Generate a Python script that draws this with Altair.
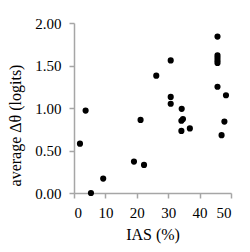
import altair as alt
import pandas as pd

ias = [1.9, 3.7, 5.4, 9.3, 19.1, 22.3, 21.2, 26.2, 30.8, 30.8, 30.8, 34.3, 34.2, 34.7,
       34.2, 36.9, 45.7, 45.7, 45.7, 45.7, 45.7, 45.7, 48.4, 47.9, 47.0]
dtheta = [0.58, 0.97, 0.00, 0.17, 0.37, 0.33, 0.86, 1.38, 1.56, 1.13, 1.05, 0.99, 0.85, 0.87,
          0.73, 0.76, 1.84, 1.62, 1.59, 1.56, 1.53, 1.25, 1.15, 0.84, 0.68]

df = pd.DataFrame({"ias": ias, "dtheta": dtheta})

font = "Liberation Serif"

chart = alt.Chart(df).mark_circle(size=38, color="black", opacity=1).encode(
    x=alt.X("ias:Q", scale=alt.Scale(domain=[0, 50], nice=False),
            axis=alt.Axis(values=[0, 10, 20, 30, 40, 50], format="d", title="IAS (%)",
                          labelFont=font, titleFont=font,
                          labelPadding=7, titlePadding=6)),
    y=alt.Y("dtheta:Q", scale=alt.Scale(domain=[0, 2], nice=False),
            axis=alt.Axis(values=[0, 0.5, 1, 1.5, 2], format=".2f",
                          title="average Δθ (logits)",
                          labelFont=font, titleFont=font, labelPadding=8,
                          titleAngle=270, titleAlign="center", titleBaseline="middle",
                          titleX=-59, titleY=102)),
).properties(
    width=157, height=170,
    autosize=alt.AutoSizeParams(type="none"),
    padding={"left": 66, "top": 15, "right": 10, "bottom": 62},
).configure_view(stroke=None).configure_axis(
    grid=False,
    domainColor="#a6a6a6",
    tickColor="#a6a6a6",
    domainWidth=1.5,
    tickWidth=1.5,
    tickSize=5,
    labelFontSize=15,
    titleFontSize=16,
    labelColor="black",
    titleColor="black",
    titleFontWeight="normal",
)

chart.save("out.html", embed_options={"renderer": "svg", "actions": False})
